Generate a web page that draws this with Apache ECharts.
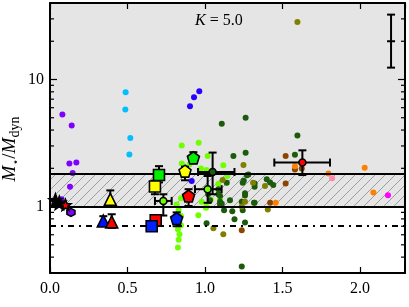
<!DOCTYPE html>
<html><head><meta charset="utf-8">
<script src="https://cdn.jsdelivr.net/npm/echarts@6/dist/echarts.min.js"></script>
<style>html,body{margin:0;padding:0;background:#fff}#c{width:409px;height:307px}</style>
</head><body><div id="c"></div>
<script>
// ---------- data (z, M*/Mdyn) ----------
const purplePts = [[0.08,5.31],[0.14,4.35],[0.125,2.18],[0.17,2.22],[0.146,1.84],[0.129,1.43],[0.075,1.14]];
const bluePts = [[0.903,6.17],[0.929,7.26],[0.963,8.09],[0.914,1.59]];
const skyPts = [[0.488,7.95],[0.486,5.81],[0.518,3.46],[0.512,2.57]];
const limePts = [[0.85,3.03],[0.959,3.18],[1.017,2.5],[0.85,2.18],[0.9,2.15],[0.87,1.79],[0.974,1.99],[1.118,2.11],[1.144,1.74],[1.086,1.51],[0.845,1.16],[0.978,1.09],[1.037,1.13],[0.817,1.04],[1.01,1.94],[1.01,1.0],[1.097,1.14],[0.83,0.94],[0.845,0.844],[0.83,0.77],[0.845,0.713],[0.825,0.663],[0.835,0.606],[0.83,0.547],[0.825,0.476],[1.006,0.98],[0.957,0.855]];
const darkGreenPts = [[1.108,4.49],[1.262,5.0],[1.596,3.63],[1.183,2.5],[1.262,2.65],[1.58,2.56],[1.27,1.76],[1.243,1.54],[1.32,1.43],[1.398,1.64],[1.42,1.55],[1.44,1.48],[1.258,1.27],[1.316,1.07],[1.243,0.935],[1.258,0.75],[1.19,0.795],[1.01,0.74],[1.123,0.935],[1.176,0.92],[1.097,1.04],[1.28,1.79],[1.32,1.52],[1.258,1.22],[1.32,1.07],[1.097,1.21],[1.086,1.37],[1.14,1.54],[1.02,1.25],[1.032,1.12],[1.086,1.25],[1.097,1.09],[1.108,1.05],[1.161,1.12],[1.237,1.09],[1.237,0.338],[1.25,1.6]];
const olivePts = [[1.596,28.4],[1.248,2.12],[1.31,1.54],[1.387,1.45],[1.258,1.09],[1.405,0.95],[1.054,0.675],[1.118,0.606],[1.114,1.62],[1.237,1.0]];
const brownPts = [[1.52,2.5],[1.58,1.96],[1.624,1.99],[1.52,1.52],[1.42,1.07],[1.237,0.65]];
const orangePts = [[1.58,2.08],[1.796,1.82],[1.456,1.07],[2.03,2.02],[2.086,1.29]];
const pinkPts = [[1.82,1.67]];
const magentaPts = [[2.18,1.23]];

// big outlined markers
const blackStars = [[0.035,1.12],[0.06,1.07]];
const redStars = [[0.1,1.03]];
const purpleHex = [[0.135,0.9]];
const triYellow = [[0.389,1.14]];
const triBlue = [[0.344,0.77]];
const triRed = [[0.398,0.757]];
const sqGreen = [[0.703,1.77]];
const sqYellow = [[0.677,1.44]];
const sqRed = [[0.682,0.78]];
const sqBlue = [[0.656,0.70]];
const pentGreen = [[0.925,2.42]];
const pentYellow = [[0.871,1.90]];
const pentRed = [[0.894,1.21]];
const pentBlue = [[0.817,0.805]];
const smallLimeOutlined = [[0.731,1.107],[1.017,1.37]];
const smallDarkOutlined = [[1.049,1.87]];
const redCircle = [[1.628,2.22]];

// error bars: [x, y, xlo, xhi, ylo, yhi] (null = none)
const errorBars = [
  [0.389,1.14,null,null,1.08,1.34],
  [0.344,0.77,null,null,0.72,0.84],
  [0.398,0.757,null,null,0.68,0.87],
  [0.703,1.77,null,null,1.55,2.08],
  [0.677,1.44,null,null,1.25,1.6],
  [0.925,2.42,null,null,2.18,2.68],
  [0.871,1.90,null,null,1.61,2.06],
  [0.894,1.21,null,null,1.01,1.37],
  [0.817,0.805,null,null,0.70,0.90],
  [0.731,1.107,0.677,0.785,0.85,1.25],
  [1.049,1.87,0.955,1.19,1.25,2.66],
  [1.017,1.37,0.935,1.107,1.07,1.74],
  [1.628,2.22,1.447,1.806,1.77,2.77],
  [2.2,20,null,null,12.4,32.4]
];

// reference lines & regions
const upperLine = 1.8, lowerLine = 1.0, dashLine = 0.7;
const xTicks = [0, 0.5, 1.0, 1.5, 2.0];
const yMajorTicks = [1, 10];
const yMinorTicks = [0.3,0.4,0.5,0.6,0.7,0.8,0.9,2,3,4,5,6,7,8,9,20,30,40];
const X_MIN = 0, X_MAX = 2.29, Y_MIN = 0.3, Y_MAX = 40;

// ---------- drawing ----------
const FONT = '"Liberation Serif", "DejaVu Serif", serif';
const chart = echarts.init(document.getElementById('c'), null, {renderer: 'canvas'});

const pc = document.createElement('canvas'); pc.width = 10; pc.height = 10;
const g = pc.getContext('2d');
g.fillStyle = '#e5e5e5'; g.fillRect(0,0,10,10);
g.strokeStyle = '#8a8a8a'; g.lineWidth = 0.8;
g.beginPath(); g.moveTo(-1,11); g.lineTo(11,-1); g.moveTo(-1,1); g.lineTo(1,-1); g.moveTo(9,11); g.lineTo(11,9); g.stroke();

function starPath() {
  let s = '';
  for (let i = 0; i < 10; i++) {
    const a = (-90 + i*36) * Math.PI/180, r = i % 2 ? 0.42 : 1;
    s += (i ? 'L' : 'M') + (r*Math.cos(a)).toFixed(3) + ',' + (r*Math.sin(a)).toFixed(3) + ' ';
  }
  return 'path://' + s + 'Z';
}
const STAR = starPath();
const PENT = 'path://M0,-1 L0.951,-0.309 L0.588,0.809 L-0.588,0.809 L-0.951,-0.309 Z';
const HEX = 'path://M0,-1 L0.866,-0.5 L0.866,0.5 L0,1 L-0.866,0.5 L-0.866,-0.5 Z';

function dots(data, color) {
  return {type: 'scatter', data, symbol: 'circle', symbolSize: 6, z: 3,
    itemStyle: {color, opacity: 1}, silent: true};
}
function big(data, color, symbol, size, z) {
  return {type: 'scatter', data, symbol, symbolSize: size, z: z || 6,
    itemStyle: {color, borderColor: '#000', borderWidth: 1.6, opacity: 1}, silent: true};
}

const series = [
  {type: 'scatter', data: [], z: 1, silent: true,
    markArea: {silent: true, data: [
      [{yAxis: upperLine, itemStyle: {color: '#e5e5e5'}}, {yAxis: Y_MAX}],
      [{yAxis: lowerLine, itemStyle: {color: {image: pc, repeat: 'repeat'}}}, {yAxis: upperLine}]
    ]}},
  {type: 'scatter', data: [], z: 2, silent: true,
    markLine: {silent: true, symbol: 'none', label: {show: false}, animation: false, data: [
      {yAxis: upperLine, lineStyle: {color: '#000', width: 2, type: 'solid'}},
      {yAxis: lowerLine, lineStyle: {color: '#000', width: 2, type: 'solid'}},
      {yAxis: dashLine, lineStyle: {color: '#000', width: 2, type: [6,5,2,5]}}
    ]}},
  dots(purplePts, '#8000ff'),
  dots(bluePts, '#2a00ff'),
  dots(skyPts, '#00bfff'),
  dots(limePts, '#70ff00'),
  dots(darkGreenPts, '#1c5a0c'),
  dots(olivePts, '#7f7f00'),
  dots(brownPts, '#8b4500'),
  dots(orangePts, '#ff7f00'),
  dots(pinkPts, '#ff88aa'),
  dots(magentaPts, '#ff00ff'),
  {type: 'custom', z: 5, silent: true,
    data: errorBars.map(r => [r[0], r[1]]),
    renderItem: function (params, api) {
      const r = errorBars[params.dataIndex];
      const ch = [];
      const st = {stroke: '#000', lineWidth: 2};
      const cap = 4;
      if (r[4] != null) {
        const a = api.coord([r[0], r[4]]), b = api.coord([r[0], r[5]]);
        ch.push({type: 'line', shape: {x1: a[0], y1: a[1], x2: b[0], y2: b[1]}, style: st});
        ch.push({type: 'line', shape: {x1: a[0]-cap, y1: a[1], x2: a[0]+cap, y2: a[1]}, style: st});
        ch.push({type: 'line', shape: {x1: b[0]-cap, y1: b[1], x2: b[0]+cap, y2: b[1]}, style: st});
      }
      if (r[2] != null) {
        const a = api.coord([r[2], r[1]]), b = api.coord([r[3], r[1]]);
        ch.push({type: 'line', shape: {x1: a[0], y1: a[1], x2: b[0], y2: b[1]}, style: st});
        ch.push({type: 'line', shape: {x1: a[0], y1: a[1]-cap, x2: a[0], y2: a[1]+cap}, style: st});
        ch.push({type: 'line', shape: {x1: b[0], y1: b[1]-cap, x2: b[0], y2: b[1]+cap}, style: st});
      }
      if (params.dataIndex === errorBars.length - 1) {
        const c = api.coord([r[0], r[1]]);
        ch.push({type: 'line', shape: {x1: c[0]-cap, y1: c[1], x2: c[0]+cap, y2: c[1]}, style: st});
      }
      return {type: 'group', children: ch};
    }},
  big(blackStars, '#000', STAR, 13),
  big(redStars, '#ff0000', STAR, 11, 7),
  big(purpleHex, '#8000ff', HEX, 8),
  big(triYellow, '#ffff00', 'triangle', 12),
  big(triBlue, '#0010ff', 'triangle', 12),
  big(triRed, '#ff0000', 'triangle', 12, 7),
  big(sqGreen, '#00ee00', 'rect', 11),
  big(sqYellow, '#ffff00', 'rect', 11),
  big(sqRed, '#ff0000', 'rect', 11),
  big(sqBlue, '#0022ff', 'rect', 11, 7),
  big(pentGreen, '#00ee00', PENT, 12),
  big(pentYellow, '#ffff00', PENT, 12),
  big(pentRed, '#ff0000', PENT, 12),
  big(pentBlue, '#0022ff', PENT, 12),
  big(smallLimeOutlined, '#70ff00', 'circle', 7),
  big(smallDarkOutlined, '#1c5a0c', 'circle', 7),
  big(redCircle, '#ff0000', 'circle', 7),
  {type: 'custom', z: 9, silent: true,
    data: yMinorTicks.map(v => [X_MIN, v, 0]).concat(yMajorTicks.map(v => [X_MIN, v, 1])),
    renderItem: function (params, api) {
      const p = api.coord([api.value(0), api.value(1)]);
      const cs = params.coordSys;
      const len = api.value(2) ? 7 : 4;
      const st = {stroke: '#000', lineWidth: 1.2};
      return {type: 'group', children: [
        {type: 'line', shape: {x1: cs.x, y1: p[1], x2: cs.x + len, y2: p[1]}, style: st},
        {type: 'line', shape: {x1: cs.x + cs.width - len, y1: p[1], x2: cs.x + cs.width, y2: p[1]}, style: st}
      ]};
    }}
];

const axisLine = {show: true, onZero: false, lineStyle: {color: '#000', width: 2}};
chart.setOption({
  animation: false,
  backgroundColor: '#fff',
  grid: {left: 50, right: 4, top: 3, bottom: 34, containLabel: false, outerBoundsMode: 'none'},
  graphic: [
    {type: 'text', left: 195, top: 13, z: 20,
      style: {text: '{i|K} = 5.0', font: '16px ' + FONT, fill: '#000',
        rich: {i: {fontStyle: 'italic', fontSize: 16, fontFamily: FONT}}}},
    {type: 'text', x: 10, y: 149, rotation: Math.PI / 2, z: 20,
      style: {text: '{i|M}{s|⋆}{n|/}{i|M}{sub|dyn}', fill: '#000', align: 'center', verticalAlign: 'middle',
        rich: {i: {fontStyle: 'italic', fontSize: 19, fontFamily: FONT, fill: '#000', verticalAlign: 'middle'},
               n: {fontSize: 19, fontFamily: FONT, fill: '#000', verticalAlign: 'middle'},
               s: {fontSize: 11, fontFamily: 'DejaVu Sans', fill: '#000', verticalAlign: 'bottom', padding: [8,0,0,0]},
               sub: {fontSize: 14, fontFamily: FONT, fill: '#000', verticalAlign: 'bottom', padding: [10,0,0,0]}}}}
  ],
  xAxis: [
    {type: 'value', min: X_MIN, max: X_MAX, interval: 0.5, position: 'bottom', z: 10,
      axisLine, splitLine: {show: false},
      axisTick: {show: true, inside: true, length: 6, lineStyle: {color: '#000', width: 1.2}},
      axisLabel: {show: true, margin: 8, color: '#000', fontFamily: FONT, fontSize: 16,
        showMaxLabel: false, formatter: v => xTicks.some(t => Math.abs(t - v) < 1e-9) ? v.toFixed(1) : ''},
      name: 'z', nameLocation: 'middle', nameGap: 17,
      nameTextStyle: {fontFamily: FONT, fontStyle: 'italic', fontSize: 18, color: '#000'}},
    {type: 'value', min: X_MIN, max: X_MAX, interval: 0.5, position: 'top', z: 10,
      axisLine, splitLine: {show: false},
      axisTick: {show: true, inside: true, length: 6, lineStyle: {color: '#000', width: 1.2}},
      axisLabel: {show: false}}
  ],
  yAxis: [
    {type: 'log', logBase: 10, min: Y_MIN, max: Y_MAX, position: 'left', z: 10,
      axisLine, splitLine: {show: false}, axisTick: {show: false},
      axisLabel: {show: true, margin: 6, color: '#000', fontFamily: FONT, fontSize: 16,
        showMinLabel: false, showMaxLabel: false,
        formatter: v => yMajorTicks.some(t => Math.abs(t - v) < 1e-6) ? String(Math.round(v)) : ''}},
    {type: 'log', logBase: 10, min: Y_MIN, max: Y_MAX, position: 'right', z: 10,
      axisLine, splitLine: {show: false}, axisTick: {show: false}, axisLabel: {show: false}}
  ],
  series
});
</script></body></html>
